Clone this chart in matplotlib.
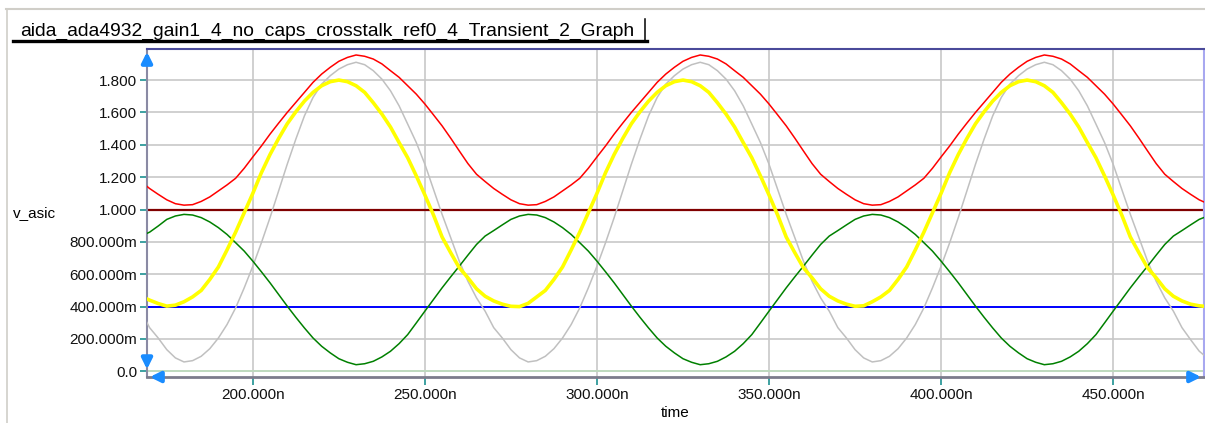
import matplotlib
matplotlib.use("Agg")
import matplotlib.pyplot as plt
from matplotlib.lines import Line2D

plt.rcParams['font.family'] = ['Liberation Sans', 'DejaVu Sans']

TITLE = "aida_ada4932_gain1_4_no_caps_crosstalk_ref0_4_Transient_2_Graph"

# time samples (ns), read every 2.5 ns off the picture
time_ns = [167.5, 170, 172.5, 175, 177.5, 180, 182.5, 185, 187.5, 190, 192.5, 195,
           197.5, 200, 202.5, 205, 207.5, 210, 212.5, 215, 217.5, 220, 222.5, 225,
           227.5, 230, 232.5, 235, 237.5, 240, 242.5, 245, 247.5, 250, 252.5, 255,
           257.5, 260, 262.5, 265, 267.5, 270, 272.5, 275, 277.5, 280, 282.5, 285,
           287.5, 290, 292.5, 295, 297.5, 300, 302.5, 305, 307.5, 310, 312.5, 315,
           317.5, 320, 322.5, 325, 327.5, 330, 332.5, 335, 337.5, 340, 342.5, 345,
           347.5, 350, 352.5, 355, 357.5, 360, 362.5, 365, 367.5, 370, 372.5, 375,
           377.5, 380, 382.5, 385, 387.5, 390, 392.5, 395, 397.5, 400, 402.5, 405,
           407.5, 410, 412.5, 415, 417.5, 420, 422.5, 425, 427.5, 430, 432.5, 435,
           437.5, 440, 442.5, 445, 447.5, 450, 452.5, 455, 457.5, 460, 462.5, 465,
           467.5, 470, 472.5, 475, 477.5]

# v_asic traces (V)
red_v = [1.173,
         1.13, 1.094, 1.06, 1.036, 1.027, 1.03, 1.05, 1.078, 1.115, 1.152,
         1.193, 1.255, 1.325, 1.393, 1.466, 1.534, 1.60, 1.662, 1.724, 1.786,
         1.837, 1.879, 1.916, 1.94, 1.955, 1.947, 1.93, 1.90, 1.858, 1.817,
         1.765, 1.713, 1.652, 1.585, 1.517, 1.441, 1.362, 1.284, 1.218, 1.173,
         1.13, 1.094, 1.06, 1.036, 1.027, 1.03, 1.05, 1.078, 1.115, 1.152,
         1.193, 1.255, 1.325, 1.393, 1.466, 1.534, 1.60, 1.662, 1.724, 1.786,
         1.837, 1.879, 1.916, 1.94, 1.955, 1.947, 1.93, 1.90, 1.858, 1.817,
         1.765, 1.713, 1.652, 1.585, 1.517, 1.441, 1.362, 1.284, 1.218, 1.173,
         1.13, 1.094, 1.06, 1.036, 1.027, 1.03, 1.05, 1.078, 1.115, 1.152,
         1.193, 1.255, 1.325, 1.393, 1.466, 1.534, 1.60, 1.662, 1.724, 1.786,
         1.837, 1.879, 1.916, 1.94, 1.955, 1.947, 1.93, 1.90, 1.858, 1.817,
         1.765, 1.713, 1.652, 1.585, 1.517, 1.441, 1.362, 1.284, 1.218, 1.173,
         1.13, 1.094, 1.06, 1.036]
yellow_v = [0.464,
            0.44, 0.419, 0.403, 0.409, 0.43, 0.46, 0.50, 0.568, 0.645, 0.75,
            0.86, 0.98, 1.10, 1.228, 1.34, 1.439, 1.53, 1.604, 1.67, 1.724,
            1.765, 1.79, 1.80, 1.79, 1.765, 1.724, 1.66, 1.59, 1.51, 1.414,
            1.32, 1.208, 1.09, 0.966, 0.83, 0.733, 0.64, 0.578, 0.51, 0.464,
            0.435, 0.415, 0.402, 0.40, 0.42, 0.46, 0.50, 0.568, 0.645, 0.75,
            0.86, 0.98, 1.10, 1.228, 1.34, 1.439, 1.53, 1.604, 1.67, 1.724,
            1.765, 1.79, 1.80, 1.79, 1.765, 1.724, 1.66, 1.59, 1.51, 1.414,
            1.32, 1.208, 1.09, 0.966, 0.83, 0.733, 0.64, 0.578, 0.51, 0.464,
            0.435, 0.415, 0.402, 0.405, 0.43, 0.46, 0.50, 0.568, 0.645, 0.75,
            0.86, 0.98, 1.10, 1.228, 1.34, 1.439, 1.53, 1.604, 1.67, 1.724,
            1.765, 1.79, 1.80, 1.79, 1.765, 1.724, 1.66, 1.59, 1.51, 1.414,
            1.32, 1.208, 1.09, 0.966, 0.83, 0.733, 0.64, 0.578, 0.51, 0.464,
            0.435, 0.415, 0.405, 0.40]
gray_v = [0.372,
          0.27, 0.206, 0.134, 0.083, 0.058, 0.066, 0.093, 0.14, 0.206, 0.289,
          0.392, 0.516, 0.65, 0.795, 0.95, 1.115, 1.28, 1.435, 1.579, 1.693,
          1.775, 1.827, 1.868, 1.895, 1.91, 1.895, 1.858, 1.806, 1.734, 1.641,
          1.528, 1.414, 1.28, 1.125, 0.97, 0.826, 0.681, 0.557, 0.454, 0.372,
          0.27, 0.206, 0.134, 0.083, 0.058, 0.066, 0.093, 0.14, 0.206, 0.289,
          0.392, 0.516, 0.65, 0.795, 0.95, 1.115, 1.28, 1.435, 1.579, 1.693,
          1.775, 1.827, 1.868, 1.895, 1.91, 1.895, 1.858, 1.806, 1.734, 1.641,
          1.528, 1.414, 1.28, 1.125, 0.97, 0.826, 0.681, 0.557, 0.454, 0.372,
          0.27, 0.206, 0.134, 0.083, 0.058, 0.066, 0.093, 0.14, 0.206, 0.289,
          0.392, 0.516, 0.65, 0.795, 0.95, 1.115, 1.28, 1.435, 1.579, 1.693,
          1.775, 1.827, 1.868, 1.895, 1.91, 1.895, 1.858, 1.806, 1.734, 1.641,
          1.528, 1.414, 1.28, 1.125, 0.97, 0.826, 0.681, 0.557, 0.454, 0.372,
          0.27, 0.196, 0.125, 0.08]
green_v = [0.836,
           0.86, 0.898, 0.939, 0.96, 0.970, 0.966, 0.950, 0.923, 0.888, 0.846,
           0.795, 0.743, 0.681, 0.615, 0.547, 0.475, 0.403, 0.334, 0.268, 0.206,
           0.155, 0.114, 0.078, 0.056, 0.041, 0.047, 0.062, 0.089, 0.124, 0.171,
           0.227, 0.299, 0.372, 0.444, 0.516, 0.584, 0.650, 0.718, 0.784, 0.836,
           0.87, 0.905, 0.939, 0.96, 0.970, 0.966, 0.950, 0.923, 0.888, 0.846,
           0.795, 0.743, 0.681, 0.615, 0.547, 0.475, 0.403, 0.334, 0.268, 0.206,
           0.155, 0.114, 0.078, 0.056, 0.041, 0.047, 0.062, 0.089, 0.124, 0.171,
           0.227, 0.299, 0.372, 0.444, 0.516, 0.584, 0.650, 0.718, 0.784, 0.836,
           0.87, 0.905, 0.939, 0.96, 0.970, 0.966, 0.950, 0.923, 0.888, 0.846,
           0.795, 0.743, 0.681, 0.615, 0.547, 0.475, 0.403, 0.334, 0.268, 0.206,
           0.155, 0.114, 0.078, 0.056, 0.041, 0.047, 0.062, 0.089, 0.124, 0.171,
           0.227, 0.299, 0.372, 0.444, 0.516, 0.584, 0.650, 0.718, 0.784, 0.836,
           0.87, 0.905, 0.939, 0.96]

# flat reference levels
ref_high = 1.0
ref_low = 0.4

y_ticks = [0.0, 0.2, 0.4, 0.6, 0.8, 1.0, 1.2, 1.4, 1.6, 1.8]
y_tick_labels = ["0.0", "200.000m", "400.000m", "600.000m", "800.000m",
                 "1.000", "1.200", "1.400", "1.600", "1.800"]
x_ticks = [200, 250, 300, 350, 400, 450]
x_tick_labels = ["200.000n", "250.000n", "300.000n", "350.000n",
                 "400.000n", "450.000n"]

W, H = 1205, 423
fig = plt.figure(figsize=(W / 100, H / 100), dpi=100)
ax = fig.add_axes([147 / W, 1 - 377 / H, (1204 - 147) / W, (377 - 49) / H])

ax.set_xlim(169.25, 476.4)
ax.set_ylim(-0.035, 1.992)

ax.grid(True, color='#c8c8c8', lw=1.2)
ax.set_axisbelow(True)
ax.axhline(0.0, color='#bcdcbc', lw=1.2, zorder=1.5)

ax.axhline(ref_high, color='#800000', lw=1.6, zorder=2)
ax.axhline(ref_low, color='#0000ff', lw=1.4, zorder=2)

ax.plot(time_ns, gray_v, color='#c0c0c0', lw=1.1, zorder=3)
ax.plot(time_ns, red_v, color='#ff0000', lw=1.1, zorder=3)
ax.plot(time_ns, green_v, color='#008000', lw=1.1, zorder=3)
ax.plot(time_ns, yellow_v, color='#ffff00', lw=2.6, zorder=4)

ax.set_yticks(y_ticks)
ax.set_yticklabels(y_tick_labels)
ax.set_xticks(x_ticks)
ax.set_xticklabels(x_tick_labels)
ax.tick_params(axis='both', colors='#2e9a9a', labelcolor='#111111',
               labelsize=11, width=1.3)
ax.tick_params(axis='y', length=5, pad=2)
ax.tick_params(axis='x', length=5.5, pad=2.5)

ax.spines['left'].set_color('#8a8aa4')
ax.spines['left'].set_linewidth(1.5)
ax.spines['top'].set_color('#4a4a9a')
ax.spines['top'].set_linewidth(1.5)
ax.spines['right'].set_color('#a8a8f0')
ax.spines['right'].set_linewidth(1.5)
ax.spines['bottom'].set_color('#7c7c8c')
ax.spines['bottom'].set_linewidth(2)

# blue axis arrows at the corners
arrow_kw = dict(arrowstyle='-|>', color='#1a8cff', lw=3, mutation_scale=15)
ax.annotate('', xy=(0, 1), xytext=(0, 0.95), xycoords='axes fraction',
            arrowprops=arrow_kw, annotation_clip=False)
ax.annotate('', xy=(0, 0.015), xytext=(0, 0.06), xycoords='axes fraction',
            arrowprops=arrow_kw, annotation_clip=False)
ax.annotate('', xy=(0, 0), xytext=(0.016, 0), xycoords='axes fraction',
            arrowprops=arrow_kw, annotation_clip=False)
ax.annotate('', xy=(1, 0), xytext=(0.985, 0), xycoords='axes fraction',
            arrowprops=arrow_kw, annotation_clip=False)

fig.text(35 / W, 1 - 213 / H, "v_asic", fontsize=11, ha='center', va='center')
fig.text(675 / W, 1 - 413 / H, "time", fontsize=11, ha='center', va='center')

# title tab and panel frame
fig.text(20 / W, 1 - 36 / H, TITLE, fontsize=13.85, ha='left', va='baseline')
fig.add_artist(Line2D([13 / W, 647 / W], [1 - 41 / H, 1 - 41 / H],
                      color='black', lw=2.4))
fig.add_artist(Line2D([645 / W, 645 / W], [1 - 19 / H, 1 - 41 / H],
                      color='black', lw=1.1))
fig.add_artist(Line2D([6 / W, 1], [1 - 9 / H, 1 - 9 / H],
                      color='#d0cec8', lw=1.5))
fig.add_artist(Line2D([6.5 / W, 6.5 / W], [0, 1 - 9 / H],
                      color='#d0cec8', lw=1.2))

fig.savefig("out.png", dpi=100)
